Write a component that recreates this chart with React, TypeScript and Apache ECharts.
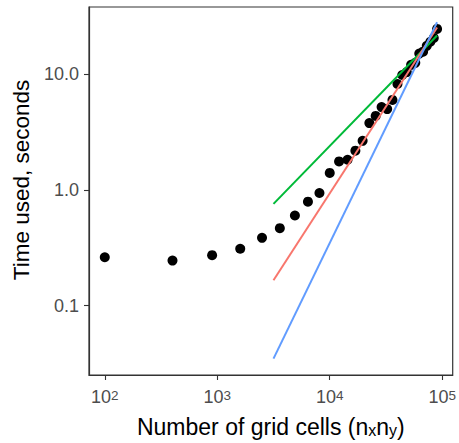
import { useEffect, useRef } from "react";
import * as echarts from "echarts";

// grid cells (n_x * n_y) and time used in seconds
const gridCells = [
  100, 400, 900, 1600, 2500, 3600, 4900, 6400, 8100, 10000, 12100, 14400,
  16900, 19600, 22500, 25600, 28900, 32400, 36100, 40000, 44100, 48400,
  52900, 57600, 62500, 67600, 72900, 78400, 84100, 90000,
];
const timeUsed = [
  0.262, 0.245, 0.273, 0.31, 0.385, 0.467, 0.6, 0.79, 0.94, 1.4, 1.76, 1.82,
  2.18, 2.65, 3.77, 4.35, 5.18, 4.98, 5.98, 8.2, 9.8, 10.4, 12.0, 12.5, 15.0,
  15.6, 17.5, 19.0, 20.5, 24.5,
];

// reference lines (slope 1, 1.5, 2 on log-log scale)
const refX = [3162, 90000];
const refSlope1 = [0.757, 21.5];
const refSlope15 = [0.166, 25.2];
const refSlope2 = [0.0349, 28.0];

const xTicks = [100, 1000, 10000, 100000];
const yTicks = [0.1, 1, 10];

const xTitle = "Number of grid cells (n{sub|x}n{sub|y})";
const yTitle = "Time used, seconds";

const FONT = '"Liberation Sans", Arial, Helvetica, sans-serif';

export default function App() {
  const ref = useRef<HTMLDivElement>(null);
  useEffect(() => {
    document.body.style.margin = "0";
    const chart = echarts.init(ref.current!, null, { renderer: "svg" });
    const pts = gridCells.map((x, i) => [x, timeUsed[i]]);
    const line = (ys: number[]) => refX.map((x, i) => [x, ys[i]]);
    chart.setOption({
      animation: false,
      backgroundColor: "#ffffff",
      textStyle: { fontFamily: FONT },
      grid: {
        left: 89,
        top: 7,
        right: 6,
        bottom: 68,
        show: true,
        borderColor: "#333333",
        borderWidth: 1.2,
        backgroundColor: "#ffffff",
      },
      xAxis: {
        type: "log",
        logBase: 10,
        min: 72.4,
        max: 123900,
        splitLine: { show: false },
        axisLine: { show: true, lineStyle: { color: "#333333", width: 1.2 } },
        axisTick: {
          show: true,
          length: 5,
          customValues: xTicks,
          lineStyle: { color: "#333333", width: 1.1 },
        },
        axisLabel: {
          customValues: xTicks,
          margin: 13,
          color: "#4D4D4D",
          fontSize: 18,
          fontFamily: FONT,
          formatter: (v: number) =>
            `{b|10}{s|${Math.round(Math.log10(v))}}`,
          rich: {
            b: { fontSize: 18, color: "#4D4D4D", fontFamily: FONT },
            s: {
              fontSize: 13.5,
              color: "#4D4D4D",
              fontFamily: FONT,
              verticalAlign: "top",
            },
          },
        },
        name: xTitle,
        nameLocation: "middle",
        nameGap: 40,
        nameTextStyle: {
          fontSize: 23,
          color: "#000000",
          fontFamily: FONT,
          rich: {
            sub: {
              fontSize: 16,
              color: "#000000",
              fontFamily: FONT,
              verticalAlign: "bottom",
              padding: [6, 0, 0, 0],
            },
          },
        },
      },
      yAxis: {
        type: "log",
        logBase: 10,
        min: 0.0252,
        max: 37.9,
        splitLine: { show: false },
        axisLine: { show: true, lineStyle: { color: "#333333", width: 1.2 } },
        axisTick: {
          show: true,
          length: 5,
          customValues: yTicks,
          lineStyle: { color: "#333333", width: 1.1 },
        },
        axisLabel: {
          customValues: yTicks,
          margin: 10,
          color: "#4D4D4D",
          fontSize: 18,
          fontFamily: FONT,
          formatter: (v: number) => v.toFixed(1),
        },
      },
      graphic: [
        {
          type: "text",
          x: 21,
          y: 180,
          rotation: Math.PI / 2,
          style: {
            text: yTitle,
            font: `22.5px ${FONT}`,
            fill: "#000000",
            align: "center",
            verticalAlign: "middle",
          },
        },
      ],
      series: [
        {
          type: "scatter",
          data: pts,
          symbolSize: 10,
          itemStyle: { color: "#000000", opacity: 1 },
          z: 2,
        },
        {
          type: "line",
          data: line(refSlope1),
          showSymbol: false,
          lineStyle: { color: "#00BA38", width: 2 },
          z: 3,
        },
        {
          type: "line",
          data: line(refSlope15),
          showSymbol: false,
          lineStyle: { color: "#F8766D", width: 2 },
          z: 3,
        },
        {
          type: "line",
          data: line(refSlope2),
          showSymbol: false,
          lineStyle: { color: "#619CFF", width: 2 },
          z: 3,
        },
      ],
    });
    return () => chart.dispose();
  }, []);
  return (
    <div
      ref={ref}
      style={{ position: "fixed", left: 0, top: 0, width: 459, height: 443 }}
    />
  );
}
